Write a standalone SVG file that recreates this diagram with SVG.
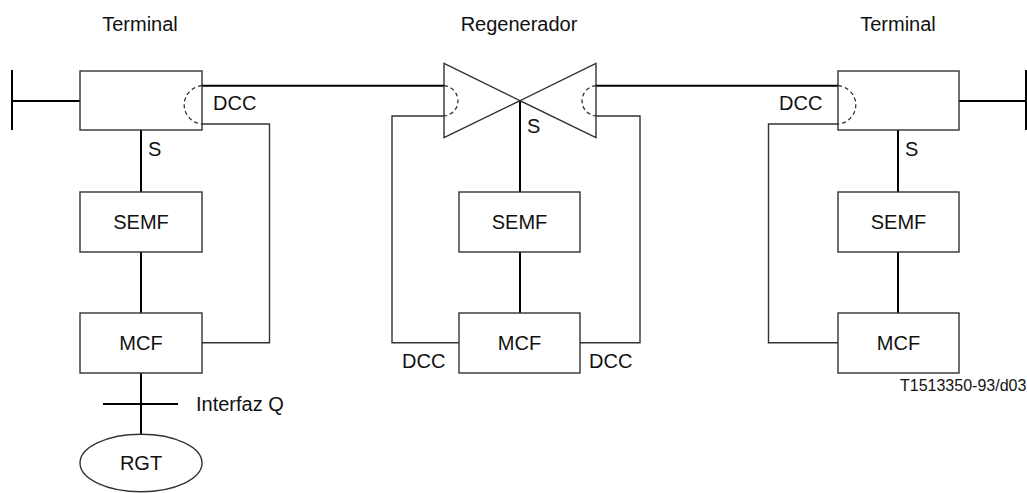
<svg xmlns="http://www.w3.org/2000/svg" width="1027" height="493" viewBox="0 0 1027 493">
<style>
text{font-family:"Liberation Sans",Arial,sans-serif;font-size:20px;fill:#111}
.c{text-anchor:middle}
.box{fill:#fff;stroke:#333;stroke-width:1.4}
.thick{fill:none;stroke:#000;stroke-width:2}
.thin{fill:none;stroke:#333;stroke-width:1.4}
.dash{fill:none;stroke:#222;stroke-width:1.2;stroke-dasharray:4 3}
</style>
<rect width="1027" height="493" fill="#fff"/>
<g id="connectors">
<path class="thick" d="M12 70V130M12 101H80"/>
<path class="thick" d="M1026 70V130M959 101H1026"/>
<path class="thick" d="M202 85.7H444M596 85.7H838"/>
<path class="thin" d="M202 124H269.5V342.7H202"/>
<path class="thin" d="M444 116H392V342.7H459"/>
<path class="thin" d="M596 116H640V342.7H580"/>
<path class="thin" d="M838 124H768.5V342.7H838"/>
<path class="thick" d="M141 130V192M141 252V313M141 373V434M103 404H178"/>
<path class="thick" d="M520 100.7V192M520 252V313"/>
<path class="thick" d="M898 130V192M898 252V313"/>
</g>
<g id="title-left"><text class="c" x="140" y="31">Terminal</text></g>
<g id="title-mid"><text class="c" x="519" y="31">Regenerador</text></g>
<g id="title-right"><text class="c" x="898" y="31">Terminal</text></g>
<g id="term-left">
<rect class="box" x="80" y="71" width="122" height="59"/>
<path class="dash" d="M202 85.7A19.2 19.2 0 0 0 202 124"/>
<text x="213" y="110">DCC</text>
<text x="148" y="156">S</text>
</g>
<g id="regen">
<path class="thin" d="M444 63.3V137.7L520 100.7ZM596 63.3V137.7L520 100.7Z"/>
<path class="dash" d="M444 85.7A15.2 15.2 0 0 1 444 116"/>
<path class="dash" d="M596 85.7A15.2 15.2 0 0 0 596 116"/>
<text x="527" y="133">S</text>
</g>
<g id="term-right">
<rect class="box" x="838" y="71" width="121" height="59"/>
<path class="dash" d="M838 85.7A19.2 19.2 0 0 1 838 124"/>
<text x="779" y="110">DCC</text>
<text x="905" y="156">S</text>
</g>
<g id="semf-left"><rect class="box" x="80" y="192" width="122" height="60"/><text class="c" x="141" y="229">SEMF</text></g>
<g id="semf-mid"><rect class="box" x="459" y="192" width="121" height="60"/><text class="c" x="519.5" y="229">SEMF</text></g>
<g id="semf-right"><rect class="box" x="838" y="192" width="121" height="60"/><text class="c" x="898.5" y="229">SEMF</text></g>
<g id="mcf-left"><rect class="box" x="80" y="313" width="122" height="60"/><text class="c" x="141" y="350">MCF</text></g>
<g id="mcf-mid"><rect class="box" x="459" y="313" width="121" height="60"/><text class="c" x="519.5" y="350">MCF</text>
<text x="402" y="368">DCC</text><text x="589" y="368">DCC</text></g>
<g id="mcf-right"><rect class="box" x="838" y="313" width="121" height="60"/><text class="c" x="898.5" y="350">MCF</text></g>
<g id="iface"><text x="196" y="411">Interfaz Q</text></g>
<g id="rgt"><ellipse class="thin" cx="141" cy="463" rx="61" ry="28.7"/><text class="c" x="141" y="470">RGT</text></g>
<g id="ref"><text x="900" y="391" style="font-size:16px">T1513350-93/d03</text></g>
</svg>
